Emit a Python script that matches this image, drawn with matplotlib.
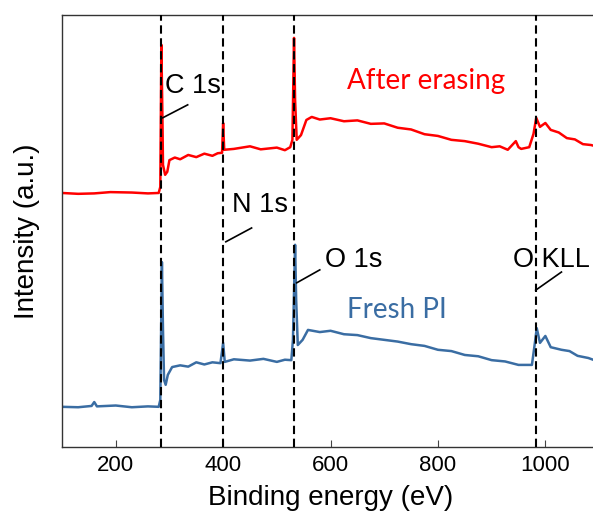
import matplotlib
matplotlib.use('Agg')
import matplotlib.pyplot as plt

# survey spectra (arbitrary intensity units)
energy_erased = [100, 130, 160, 190, 230, 260, 280, 283, 285, 287, 288, 292, 296, 300, 310, 320, 335,
                 350, 365, 380, 390, 398, 400, 402, 420, 450, 470, 500, 515, 525, 529, 532, 534, 537,
                 545, 555, 565, 580, 600, 625, 650, 675, 700, 725, 750, 775, 800, 825, 850, 875, 900,
                 915, 930, 945, 950, 955, 970, 978, 983, 990, 1000, 1010, 1025, 1040, 1055, 1070, 1085,
                 1100]
intensity_erased = [58.8, 58.6, 58.7, 59.0, 58.9, 58.7, 58.8, 60.2, 93.1, 75.7, 65.3, 63.0, 63.7, 66.4,
                    67.0, 66.6, 67.6, 67.1, 67.9, 67.4, 68.0, 68.1, 75.0, 68.8, 69.0, 69.6, 68.9, 69.3,
                    68.7, 69.4, 71.1, 94.7, 80.3, 71.1, 72.2, 75.7, 76.4, 75.8, 76.1, 75.4, 75.6, 74.8,
                    74.9, 73.9, 73.5, 72.4, 72.0, 71.1, 70.8, 70.2, 69.4, 69.6, 68.8, 70.8, 69.4, 69.0,
                    69.4, 72.5, 76.2, 74.1, 75.0, 73.4, 72.8, 71.5, 71.2, 70.1, 69.9, 69.4]

energy_fresh = [100, 130, 155, 160, 165, 200, 230, 260, 280, 283, 286, 288, 290, 293, 297, 305, 320,
                335, 350, 365, 380, 395, 400, 403, 420, 450, 475, 500, 515, 527, 530, 534, 536, 539,
                548, 558, 580, 600, 625, 650, 675, 700, 725, 750, 775, 800, 825, 850, 875, 900, 925,
                950, 975, 980, 984, 990, 1000, 1010, 1030, 1045, 1060, 1080, 1100]
intensity_fresh = [9.3, 9.2, 9.5, 10.4, 9.4, 9.6, 9.2, 9.4, 9.3, 10.9, 42.8, 27.1, 15.5, 14.4, 16.7,
                   18.5, 18.9, 18.6, 19.6, 19.1, 19.6, 19.4, 24.1, 19.7, 20.3, 20.0, 20.4, 19.7, 20.2,
                   20.1, 24.8, 46.8, 34.0, 23.6, 24.8, 27.1, 26.6, 26.9, 26.1, 25.9, 25.2, 24.8, 24.4,
                   23.8, 23.4, 22.5, 22.2, 21.3, 21.0, 20.1, 19.8, 19.0, 19.0, 23.6, 27.5, 24.1, 25.7,
                   23.1, 22.5, 22.2, 21.1, 20.6, 19.7]

peak_positions = [285, 400, 532, 982]
peak_labels = ['C 1s', 'N 1s', 'O 1s', 'O KLL']

red = '#ff0000'
blue = '#3a6da3'

fig = plt.figure(figsize=(5.93, 5.22), dpi=100)
ax = fig.add_axes([0.1046, 0.1437, 0.9056, 0.8276])

ax.plot(energy_erased, intensity_erased, color=red, lw=1.8)
ax.plot(energy_fresh, intensity_fresh, color=blue, lw=1.8)

for e in peak_positions:
    ax.axvline(e, color='black', lw=1.5, linestyle=(0, (4, 2.2)), zorder=3)

# label text position (left, baseline) and leader line (start, end) for each peak
label_pos = [(291.5, 81.9), (416, 54.4), (589, 41.7), (939, 41.7)]
leaders = [((287.5, 76.2), (334, 79.2)), ((405, 47.5), (453, 50.7)),
           ((537, 38.0), (580, 41.0)), ((982, 36.3), (1030, 40.5))]
for lab, (tx, ty), (p0, p1) in zip(peak_labels, label_pos, leaders):
    ax.text(tx, ty, lab, fontsize=19.5, family='Liberation Sans', ha='left', va='baseline')
    ax.plot([p0[0], p1[0]], [p0[1], p1[1]], color='black', lw=1.2)

ax.text(778, 82.9, 'After erasing', color=red, fontsize=20, family='Lato', ha='center', va='baseline')
ax.text(724, 29.9, 'Fresh PI', color=blue, fontsize=20, family='Lato', ha='center', va='baseline')

ax.set_xlim(100, 1100)
ax.set_ylim(0, 100)
ax.set_xticks([200, 400, 600, 800, 1000])
ax.set_yticks([])
ax.tick_params(axis='x', direction='in', length=5, labelsize=16, pad=5.5, color='#444444')
for t in ax.get_xticklabels():
    t.set_family('Liberation Sans')
ax.spines['right'].set_visible(False)
for s in ['left', 'bottom', 'top']:
    ax.spines[s].set_color('#333333')
    ax.spines[s].set_linewidth(1.0)

ax.set_xlabel('Binding energy (eV)', fontsize=20, family='Liberation Sans', labelpad=7)
ax.set_ylabel('Intensity (a.u.)', fontsize=20, family='Liberation Sans', labelpad=16)

fig.savefig('out.png', dpi=100)
